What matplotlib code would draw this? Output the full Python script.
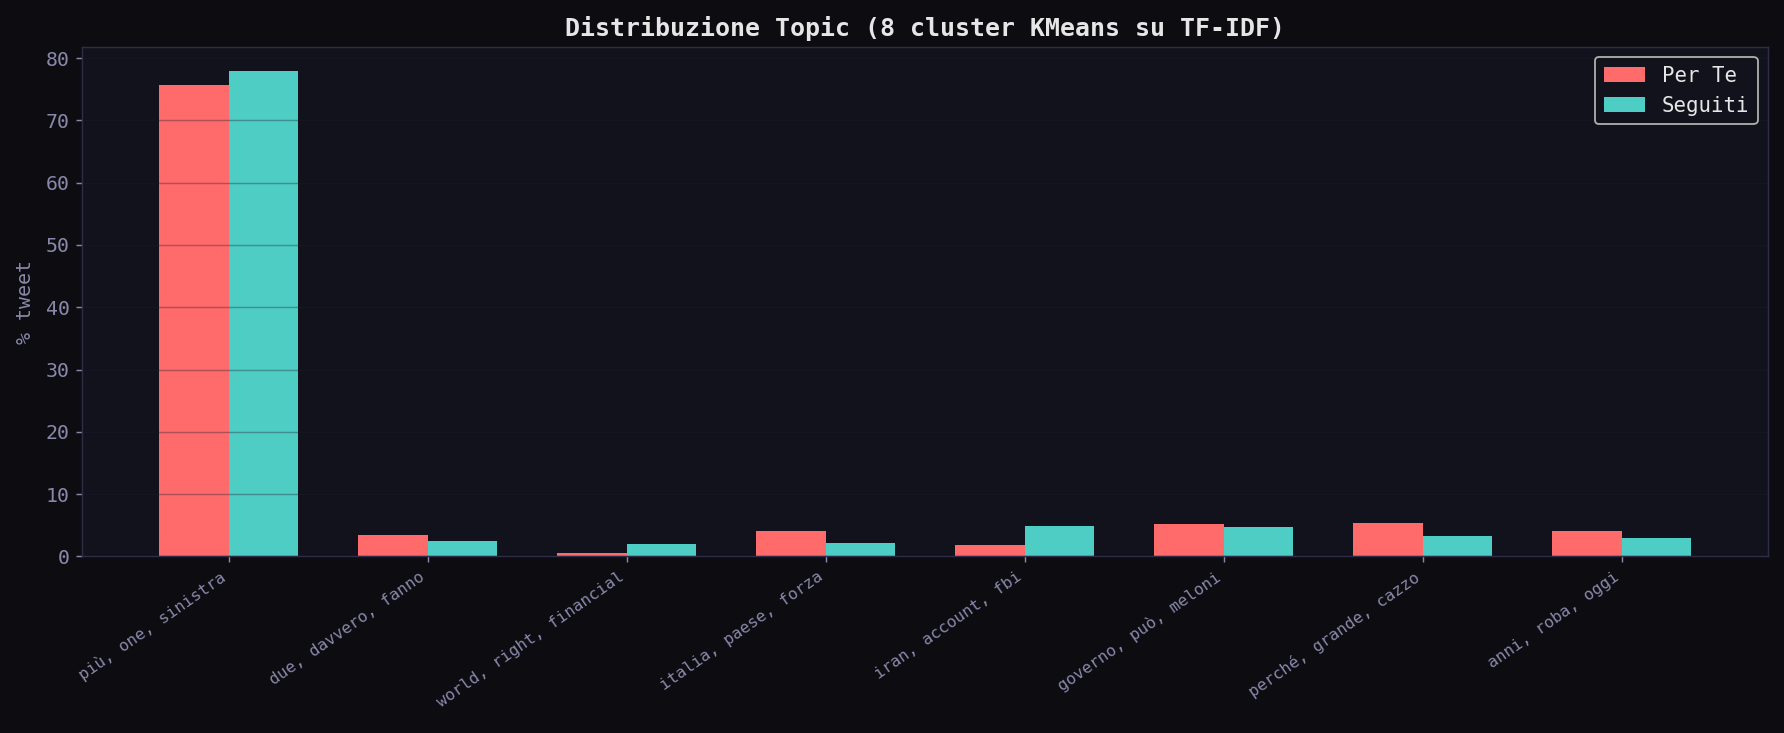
import numpy as np
import matplotlib.pyplot as plt

# topic cluster labels (top 3 terms per KMeans cluster)
topics = ["più, one, sinistra", "due, davvero, fanno", "world, right, financial",
          "italia, paese, forza", "iran, account, fbi", "governo, può, meloni",
          "perché, grande, cazzo", "anni, roba, oggi"]
per_te = [75.6, 3.35, 0.6, 4.15, 1.9, 5.15, 5.3, 4.0]
seguiti = [77.9, 2.4, 2.05, 2.2, 4.8, 4.65, 3.3, 3.0]

BG = "#0c0c11"
AX_BG = "#12121c"
SPINE = "#2e2c48"
MUTED = "#8a88aa"

plt.rcParams['font.family'] = ['DejaVu Sans Mono', 'DejaVu Sans']

fig = plt.figure(figsize=(1784/130, 733/130), dpi=130, facecolor=BG)
ax = fig.add_axes([0.0462, 0.241, 0.991 - 0.0462, 0.936 - 0.241])
ax.set_facecolor(AX_BG)

x = np.arange(len(topics))
w = 0.35
ax.bar(x - w/2, per_te, w, color="#ff6b6b", label="Per Te")
ax.bar(x + w/2, seguiti, w, color="#4ecdc4", label="Seguiti")

ax.set_xticks(x)
ax.set_xticklabels(topics, rotation=35, ha="right", fontsize=9, color="#6f6d8c")
ax.tick_params(axis="y", labelsize=11, colors=MUTED)
ax.tick_params(axis="x", colors=MUTED)
ax.set_ylabel("% tweet", fontsize=11, color=MUTED, labelpad=6)
ax.set_title("Distribuzione Topic (8 cluster KMeans su TF-IDF)", fontsize=13.8,
             fontweight="bold", color="#e6e6e6")

ax.grid(axis="y", color="#1e1c30", alpha=0.35, linewidth=0.8)
for s in ax.spines.values():
    s.set_color(SPINE)

leg = ax.legend(loc="upper right", fontsize=11.5, facecolor=AX_BG, edgecolor="#b0b0b0",
                labelcolor="#e6e6e6", framealpha=1.0)

fig.savefig("out.png", dpi=130, facecolor=BG)
